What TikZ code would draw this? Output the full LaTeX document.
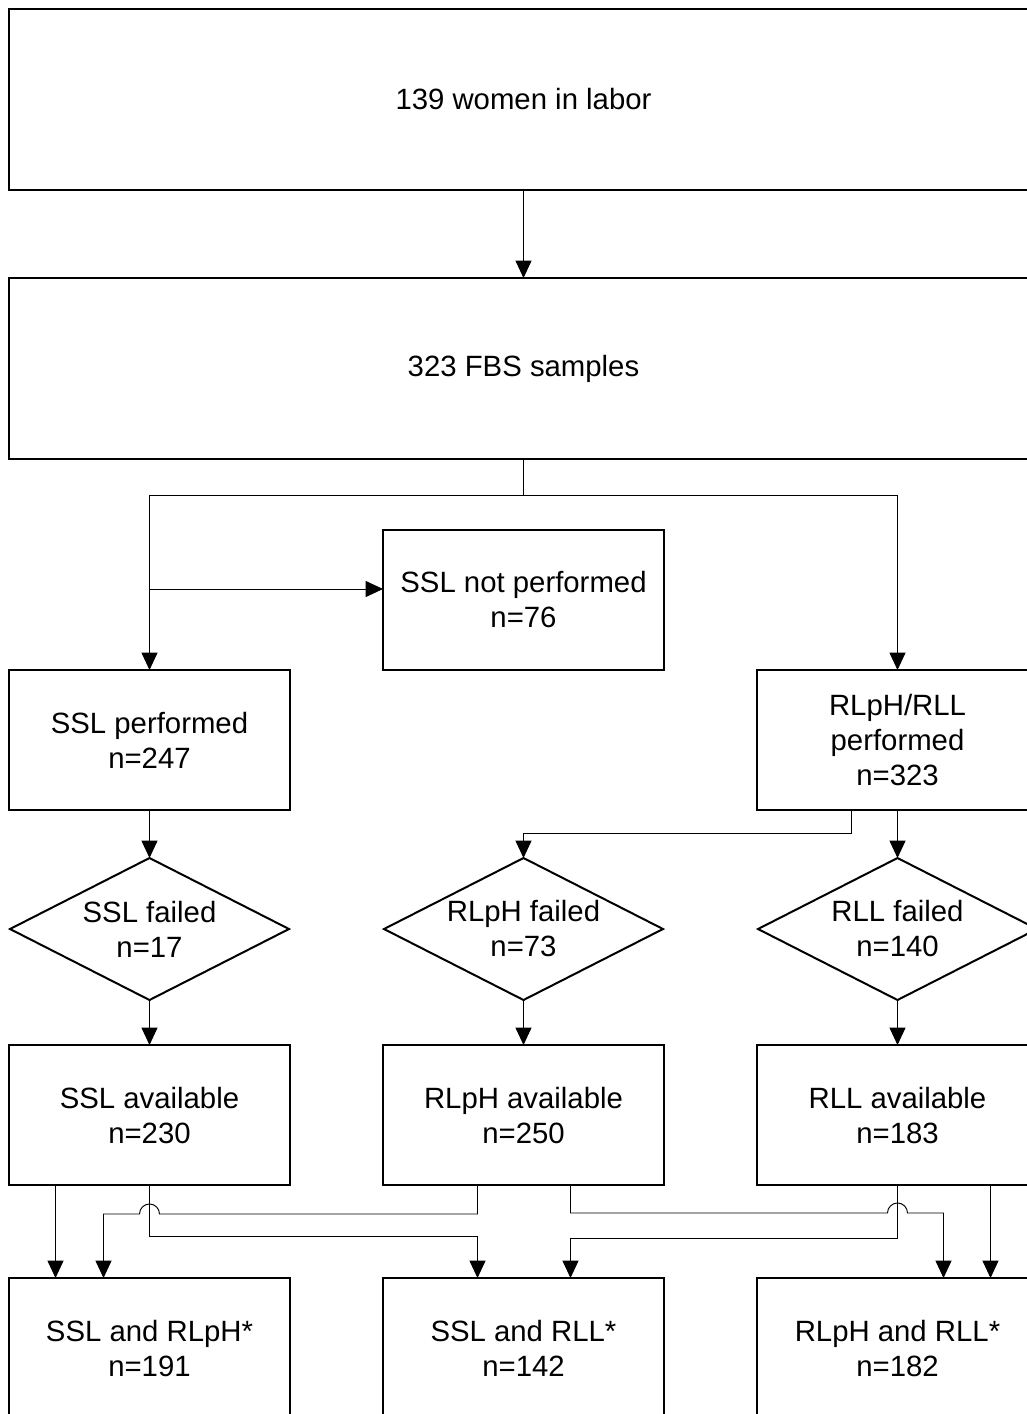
\documentclass[tikz,border=0pt]{standalone}
\usepackage{fontspec}
\setmainfont{Liberation Sans}
\usetikzlibrary{shapes.geometric, arrows.meta, positioning, calc}
\tikzset{
  box/.style={draw, line width=1.5pt, align=center, inner sep=2pt, outer sep=0pt,
    minimum width=210.75pt, minimum height=105pt, font=\fontsize{22}{26.25}\selectfont},
  widebox/.style={box, minimum width=771.75pt, minimum height=135.75pt},
  check/.style={box, diamond, aspect=1.96, inner sep=0pt, minimum width=209.25pt, minimum height=106.5pt},
  plain/.style={line width=0.7pt},
  link/.style={plain, -{Triangle[length=13pt, width=12pt]}}
}

\begin{document}
\begin{tikzpicture}[x=0.75pt, y=-0.75pt]
  \useasboundingbox (0,0) rectangle (1027,1414);
  \clip (0,0) rectangle (1027,1414);

  % Nodes
  \node[widebox] (women) at (523.5,99.5) {139 women in labor};
  \node[widebox, below=66pt of women] (fbs) {323 FBS samples};
  \node[box] (sslnot) at (523.5,600) {SSL not performed\\n=76};
  \node[box] (sslperf) at (149.5,740) {SSL performed\\n=247};
  \node[box] (rllperf) at (897.5,740) {RLpH/RLL\\performed\\n=323};
  \node[check, below=36pt of sslperf] (sslfail) {SSL failed\\n=17};
  \node[check] (rlphfail) at (sslfail -| sslnot) {RLpH failed\\n=73};
  \node[check] (rllfail) at (sslfail -| rllperf) {RLL failed\\n=140};
  \node[box, below=33.75pt of sslfail] (sslavail) {SSL available\\n=230};
  \node[box, below=33.75pt of rlphfail] (rlphavail) {RLpH available\\n=250};
  \node[box, below=33.75pt of rllfail] (rllavail) {RLL available\\n=183};
  \node[box, below=69.75pt of sslavail] (sslrlph) {SSL and RLpH*\\n=191};
  \node[box, below=69.75pt of rlphavail] (sslrll) {SSL and RLL*\\n=142};
  \node[box, below=69.75pt of rllavail] (rlprll) {RLpH and RLL*\\n=182};

  % Arrows
  \draw[link] (women) -- (fbs);
  \coordinate (split) at ($(fbs.south)+(0,36)$);
  \draw[plain] (fbs.south) -- (split);
  \draw[link] (split) -| (sslperf.north);
  \draw[link] (split) -| (rllperf.north);
  \coordinate (notin) at ($(sslnot.west)+(0,-11)$);
  \draw[link] (notin -| sslperf.north) -- (notin);

  \draw[link] (sslperf) -- (sslfail);
  \draw[link] ($(rllperf.south)+(-46,0)$) -- ++(0,23) -| (rlphfail.north);
  \draw[link] (rllperf) -- (rllfail);
  \draw[link] (sslfail) -- (sslavail);
  \draw[link] (rlphfail) -- (rlphavail);
  \draw[link] (rllfail) -- (rllavail);

  % combined pairs, with hops where lines cross
  \draw[link] ($(sslavail.south)+(-94,0)$) -- ($(sslrlph.north)+(-94,0)$);
  \draw[link] (sslavail.south) -- ++(0,51) -| ($(sslrll.north)+(-46,0)$);
  \draw[link] ($(rlphavail.south)+(-46,0)$) -- ++(0,29) -- ($(sslavail.south)+(10,29)$)
    arc[start angle=0, end angle=180, radius=7.5pt] -| ($(sslrlph.north)+(-46,0)$);
  \draw[link] ($(rlphavail.south)+(47,0)$) -- ++(0,28) -- ($(rllavail.south)+(-10,28)$)
    arc[start angle=180, end angle=0, radius=7.5pt] -| ($(rlprll.north)+(46,0)$);
  \draw[link] (rllavail.south) -- ++(0,53) -| ($(sslrll.north)+(47,0)$);
  \draw[link] ($(rllavail.south)+(93,0)$) -- ($(rlprll.north)+(93,0)$);
\end{tikzpicture}
\end{document}
